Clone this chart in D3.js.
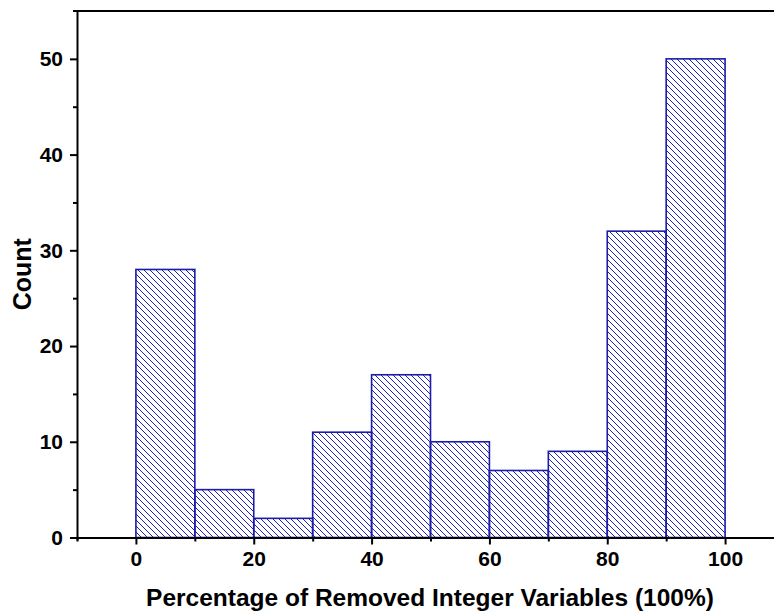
<!DOCTYPE html>
<html><head><meta charset="utf-8">
<script src="https://cdn.jsdelivr.net/npm/d3@7"></script>
<style>body{margin:0;background:#fff;} svg{display:block;}</style>
</head><body>
<svg id="c" width="774" height="612"></svg>
<script>
const binStarts = [0,10,20,30,40,50,60,70,80,90];
const binWidth = 10;
const counts = [28,5,2,11,17,10,7,9,32,50];
const xTicks = [0,20,40,60,80,100];
const yTicks = [0,10,20,30,40,50];

const svg = d3.select("#c");
const x = d3.scaleLinear().domain([-10,110]).range([77,784]);
const y = d3.scaleLinear().domain([0,55]).range([537.5,11]);
const blue = "#1c1ca8";

const defs = svg.append("defs");
const pat = defs.append("pattern").attr("id","hatch").attr("patternUnits","userSpaceOnUse")
  .attr("width",6).attr("height",6);
pat.append("path").attr("d","M0,0 L6,6 M-1,5 L1,7 M5,-1 L7,1")
  .attr("stroke","#2020b0").attr("stroke-width",1).attr("fill","none");

svg.append("g").selectAll("rect").data(binStarts).join("rect")
  .attr("x",d=>x(d)).attr("width",d=>x(d+binWidth)-x(d))
  .attr("y",(d,i)=>y(counts[i])).attr("height",(d,i)=>y(0)-y(counts[i]))
  .attr("fill","url(#hatch)").attr("stroke",blue).attr("stroke-width",1.6);

const font = "'Liberation Sans', Arial, sans-serif";
// x axis
const xAxis = d3.axisBottom(x).tickValues(xTicks).tickSize(7).tickPadding(7).tickFormat(d3.format("d"));
const gx = svg.append("g").attr("transform",`translate(0,${y(0)})`).call(xAxis);
gx.select(".domain").attr("d",`M70,0.5H774`).attr("stroke-width",2);
gx.selectAll(".tick line").attr("stroke-width",2);
gx.selectAll(".tick text").attr("font-family",font).attr("font-weight","bold").style("font-size","21px").attr("fill","#000");
const gxm = svg.append("g").attr("transform",`translate(0,${y(0)})`)
  .call(d3.axisBottom(x).tickValues([-10,10,30,50,70,90]).tickSize(4).tickFormat(""));
gxm.select(".domain").remove();
gxm.selectAll(".tick line").attr("stroke-width",2);

// y axis
const yAxis = d3.axisLeft(y).tickValues(yTicks).tickSize(7).tickPadding(7).tickFormat(d3.format("d"));
const gy = svg.append("g").attr("transform",`translate(${x(-10)},0)`).call(yAxis);
gy.select(".domain").attr("d",`M0.5,${y(0)+3}V${y(55)}`).attr("stroke-width",2);
gy.selectAll(".tick line").attr("stroke-width",2);
gy.selectAll(".tick text").attr("font-family",font).attr("font-weight","bold").style("font-size","21px").attr("fill","#000");
const gym = svg.append("g").attr("transform",`translate(${x(-10)},0)`)
  .call(d3.axisLeft(y).tickValues([5,15,25,35,45]).tickSize(4).tickFormat(""));
gym.select(".domain").remove();
gym.selectAll(".tick line").attr("stroke-width",2);

// top frame
svg.append("line").attr("x1",73).attr("x2",774).attr("y1",y(55)).attr("y2",y(55))
  .attr("stroke","#000").attr("stroke-width",2);

svg.append("text").attr("x",430).attr("y",606).attr("text-anchor","middle")
  .attr("font-family",font).attr("font-weight","bold").style("font-size","24.5px")
  .text("Percentage of Removed Integer Variables (100%)");
svg.append("text").attr("transform",`translate(31,${y(27.5)}) rotate(-90)`).attr("text-anchor","middle")
  .attr("font-family",font).attr("font-weight","bold").style("font-size","25px")
  .text("Count");
</script>
</body></html>
